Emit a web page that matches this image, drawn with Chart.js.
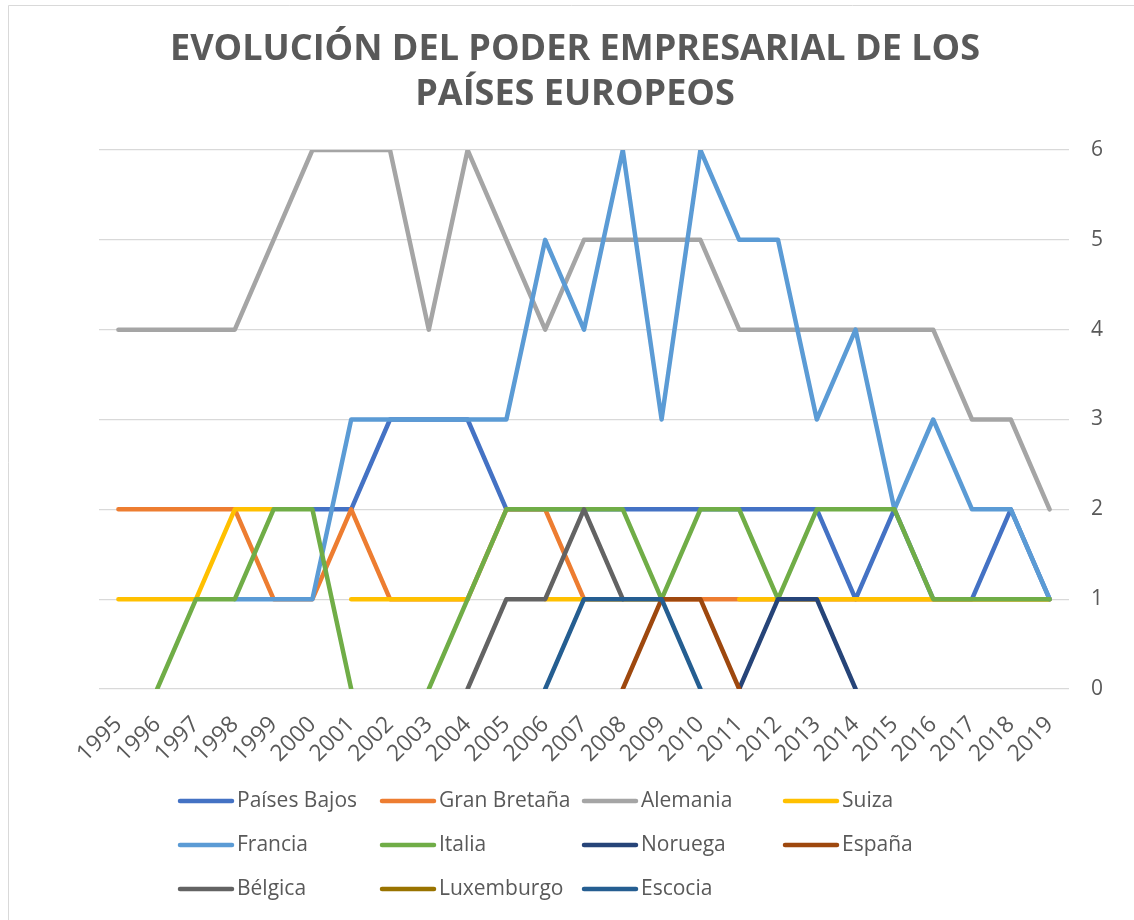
<!DOCTYPE html>
<html>
<head>
<meta charset="utf-8">
<script src="https://cdn.jsdelivr.net/npm/chart.js@4.4.1/dist/chart.umd.min.js"></script>
<style>
  html, body { margin: 0; padding: 0; background: #ffffff; }
  #wrap { position: absolute; left: 0; top: 0; width: 1134px; height: 920px; }
</style>
</head>
<body>
<div id="wrap"><canvas id="c" width="1134" height="920"></canvas></div>
<script>
const years = ['1995','1996','1997','1998','1999','2000','2001','2002','2003','2004','2005','2006','2007','2008','2009','2010','2011','2012','2013','2014','2015','2016','2017','2018','2019'];
const yTicks = [0, 1, 2, 3, 4, 5, 6];
const titleLines = ['EVOLUCIÓN DEL PODER EMPRESARIAL DE LOS', 'PAÍSES EUROPEOS'];

const paisesBajos = [null,null,null,null,null,2,2,3,3,3,2,2,2,2,2,2,2,2,2,1,2,1,1,2,1];
const granBretana = [2,2,2,2,1,1,2,1,1,1,2,2,1,1,1,1,1,1,1,1,1,1,1,1,1];
const alemania    = [4,4,4,4,5,6,6,6,4,6,5,4,5,5,5,5,4,4,4,4,4,4,3,3,2];
const suiza       = [1,1,1,2,2,null,1,1,1,1,null,1,1,1,1,null,1,1,1,1,1,1,1,1,1];
const francia     = [null,null,null,1,1,1,3,3,3,3,3,5,4,6,3,6,5,5,3,4,2,3,2,2,1];
const italia      = [null,0,1,1,2,2,0,null,0,1,2,2,2,2,1,2,2,1,2,2,2,1,1,1,1];
const noruega     = [null,null,null,null,null,null,null,null,null,null,null,null,null,null,null,null,0,1,1,0,null,null,null,null,null];
const espana      = [null,null,null,null,null,null,null,null,null,null,null,null,null,0,1,1,0,null,null,null,null,null,null,null,null];
const belgica     = [null,null,null,null,null,null,null,null,null,0,1,1,2,1,null,null,null,null,null,null,null,null,null,null,null];
const luxemburgo  = [null,null,null,null,null,null,null,null,null,null,null,null,null,null,null,null,null,null,null,null,null,null,null,null,null];
const escocia     = [null,null,null,null,null,null,null,null,null,null,null,0,1,1,1,0,null,null,null,null,null,null,null,null,null];

const seriesNames = ['Países Bajos','Gran Bretaña','Alemania','Suiza','Francia','Italia','Noruega','España','Bélgica','Luxemburgo','Escocia'];
const seriesData = [paisesBajos, granBretana, alemania, suiza, francia, italia, noruega, espana, belgica, luxemburgo, escocia];
const seriesColors = ['#4472C4','#ED7D31','#A5A5A5','#FFC000','#5B9BD5','#70AD47','#264478','#9E480E','#636363','#997300','#255E91'];

const FONT = "'Open Sans', 'DejaVu Sans', sans-serif";
const TXT = '#595959';

const datasets = seriesNames.map((name, i) => ({
  label: name,
  data: seriesData[i],
  borderColor: seriesColors[i],
  backgroundColor: seriesColors[i],
  borderWidth: 4.5,
  borderCapStyle: 'round',
  borderJoinStyle: 'round',
  pointRadius: 0,
  pointHoverRadius: 0,
  tension: 0,
  spanGaps: false,
  fill: false,
  order: seriesNames.length - i
}));

const frame = {
  id: 'frame',
  beforeDraw(chart) {
    const ctx = chart.ctx;
    ctx.save();
    ctx.fillStyle = '#ffffff';
    ctx.fillRect(0, 0, chart.width, chart.height);
    ctx.strokeStyle = '#d9d9d9';
    ctx.lineWidth = 1;
    ctx.beginPath();
    ctx.moveTo(8.5, chart.height);
    ctx.lineTo(8.5, 5.5);
    ctx.lineTo(chart.width, 5.5);
    ctx.stroke();
    ctx.restore();
  },
  afterDraw(chart) {
    const ctx = chart.ctx;
    ctx.save();
    ctx.font = "bold 36px " + FONT;
    ctx.fillStyle = TXT;
    ctx.textAlign = 'center';
    ctx.textBaseline = 'middle';
    ctx.fillText(titleLines[0], 575, 50);
    ctx.fillText(titleLines[1], 575, 95);
    ctx.restore();
  }
};

const gridLegend = {
  id: 'gridLegend',
  afterDraw(chart) {
    const ctx = chart.ctx;
    const colX = [178, 380, 582, 783];
    const rowY = [801, 845, 889];
    ctx.save();
    ctx.font = "21px " + FONT;
    ctx.textBaseline = 'middle';
    ctx.textAlign = 'left';
    chart.data.datasets.forEach((ds, i) => {
      const x = colX[i % 4];
      const y = rowY[Math.floor(i / 4)];
      ctx.strokeStyle = ds.borderColor;
      ctx.lineWidth = 4.5;
      ctx.lineCap = 'round';
      ctx.beginPath();
      ctx.moveTo(x + 2, y);
      ctx.lineTo(x + 54, y);
      ctx.stroke();
      ctx.fillStyle = TXT;
      ctx.fillText(ds.label, x + 59, y);
    });
    ctx.restore();
  }
};

new Chart(document.getElementById('c'), {
  type: 'line',
  data: { labels: years, datasets: datasets },
  plugins: [frame, gridLegend],
  options: {
    responsive: false,
    animation: false,
    events: [],
    layout: { padding: { left: 99, right: 0, top: 150, bottom: 0 } },
    plugins: {
      legend: { display: false },
      tooltip: { enabled: false },
      title: { display: false }
    },
    scales: {
      x: {
        type: 'category',
        offset: true,
        grid: { display: false, drawTicks: false },
        border: { display: false },
        ticks: {
          color: TXT,
          font: { family: FONT, size: 23 },
          minRotation: 45,
          maxRotation: 45,
          autoSkip: false,
          padding: 22
        },
        afterFit(scale) { scale.height = 231; }
      },
      y: {
        position: 'right',
        min: 0,
        max: 6,
        afterBuildTicks(scale) { scale.ticks = yTicks.map(v => ({ value: v })); },
        grid: { color: '#d9d9d9', lineWidth: 1.3, drawTicks: false },
        border: { display: false },
        ticks: {
          color: TXT,
          font: { family: FONT, size: 21 },
          padding: 22
        },
        afterFit(scale) { scale.width = 65; }
      }
    }
  }
});
</script>
</body>
</html>
